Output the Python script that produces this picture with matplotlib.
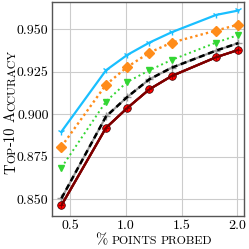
import numpy as np
import matplotlib
matplotlib.use("Agg")
import matplotlib.pyplot as plt

plt.rcParams['font.family'] = ['cmr10', 'DejaVu Serif']
plt.rcParams['mathtext.fontset'] = 'cm'
plt.rcParams['axes.formatter.use_mathtext'] = True

# datos
x = [0.42, 0.82, 1.01, 1.21, 1.41, 1.81, 2.01]
cyan = [0.8897, 0.9258, 0.9348, 0.9421, 0.9482, 0.9584, 0.9610]
naranja = [0.8809, 0.9173, 0.9277, 0.9362, 0.9421, 0.9492, 0.9527]
verde = [0.8685, 0.9074, 0.9189, 0.9258, 0.9319, 0.9421, 0.9466]
negro = [0.8504, 0.8986, 0.9100, 0.9205, 0.9273, 0.9374, 0.9418]
rojo = [0.8463, 0.8919, 0.9035, 0.9146, 0.9224, 0.9335, 0.9378]

xticks = [0.5, 1.0, 1.5, 2.0]
yticks = [0.850, 0.875, 0.900, 0.925, 0.950]

fig = plt.figure(figsize=(2.49, 2.49), dpi=100)
ax = fig.add_axes([52/249, 1 - 216/249, (244-52)/249, (216-2)/249])

ax.plot(x, cyan, '-', color='#19bfff', lw=1.6, marker='1', ms=5, mew=1.0, zorder=3)
ax.plot(x, naranja, color='#ff8c1a', lw=1.7, dashes=(1, 1.3), marker='D', ms=5, zorder=3)
ax.plot(x, verde, color='#33d633', lw=1.4, dashes=(1, 1.6), marker='v', ms=5, zorder=3)
ax.plot(x, negro, 'none', marker='+', color='#999999', ms=6, mew=1.0, zorder=3)
ax.plot(x, negro, color='black', lw=1.8, dashes=(2.4, 1.5), zorder=4)
ax.plot(x, rojo, '-', color='black', lw=1.7, zorder=3)
ax.plot(x, rojo, '-', color='#ff1010', lw=1.0, zorder=4)
ax.plot(x, rojo, 'none', marker='o', color='red', ms=5.5, mec='#330000', mew=0.5, zorder=4)
ax.plot(x, rojo, 'none', marker='+', color='#770000', ms=5, mew=0.5, zorder=5)

ax.set_xlim(0.335, 2.06)
ax.set_ylim(0.840, 0.966)
ax.set_xticks(xticks)
ax.set_xticklabels(["{:.1f}".format(v) for v in xticks])
ax.set_yticks(yticks)
ax.set_yticklabels(["{:.3f}".format(v) for v in yticks])
ax.tick_params(length=0, pad=2.5, labelsize=10)
ax.grid(True, color='#cccccc', lw=0.8)
ax.set_axisbelow(True)
for s in ax.spines.values():
    s.set_color('#555555')
    s.set_linewidth(1.0)


def versalitas(piezas, cx, cy, vertical=False):
    """Dibuja texto en versalitas a partir de trozos (texto, tamaño); texto None = hueco en pixeles"""
    fig.canvas.draw()
    r = fig.canvas.get_renderer()
    anchos = []
    for txt, tam in piezas:
        if txt is None:
            anchos.append(tam)
            continue
        t = fig.text(0, 0, txt, fontsize=tam)
        anchos.append(t.get_window_extent(r).width)
        t.remove()
    total = sum(anchos)
    pos = -total / 2
    for (txt, tam), w in zip(piezas, anchos):
        if txt is not None:
            if vertical:
                fig.text(cx / 249, (cy + pos) / 249, txt, fontsize=tam, rotation=90,
                         rotation_mode='anchor', ha='left', va='baseline')
            else:
                fig.text((cx + pos) / 249, cy / 249, txt, fontsize=tam,
                         ha='left', va='baseline')
        pos += w


grande, chico = 10.5, 8.6
versalitas([("%", grande), (None, 4), ("POINTS", chico), (None, 4), ("PROBED", chico)],
           154, 249 - 244)
versalitas([("T", grande), ("OP", chico), ("-10", grande), (None, 4),
            ("A", grande), ("CCURACY", chico)],
           15, 249 - 112, vertical=True)

fig.savefig("out.png", dpi=100)
